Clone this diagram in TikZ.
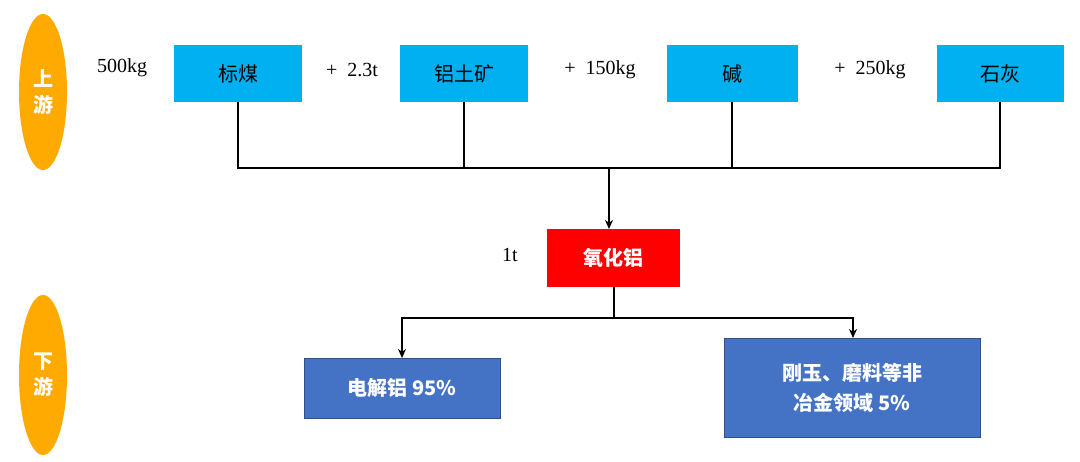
\documentclass[tikz,border=0pt]{standalone}
\usepackage{fontspec}
\setmainfont{Liberation Serif}
\newfontfamily\cjk{Noto Sans CJK SC}
\usetikzlibrary{arrows.meta}
\definecolor{cyanb}{RGB}{0,176,240}
\definecolor{blueb}{RGB}{68,114,196}
\definecolor{orng}{RGB}{255,170,0}
\tikzset{
  up/.style={fill=cyanb,draw=none,text=black,font=\cjk\fontsize{20}{24}\selectfont},
  lbl/.style={font=\fontsize{20}{24}\selectfont,inner sep=0pt},
  ln/.style={line width=2pt},
  arr/.style={line width=2pt,-{Stealth[length=9pt,width=8pt]}},
  oval/.style={fill=orng,draw=none,ellipse,text=white,font=\cjk\bfseries\fontsize{20}{26}\selectfont,align=center}
}
\usetikzlibrary{shapes.geometric}
\begin{document}
\begin{tikzpicture}[x=1pt,y=-1pt]
\useasboundingbox (0,0) rectangle (1080,462);
\node[oval,minimum width=48pt,minimum height=156pt] (o1) at (43,92) {上\\游};
\node[oval,minimum width=48pt,minimum height=160pt] (o2) at (43,375) {下\\游};
\fill[cyanb] (174,45) rectangle (302,102); \node[up] (b1) at (238,73.5) {标煤};
\fill[cyanb] (400,45) rectangle (528,102); \node[up] (b2) at (464,73.5) {铝土矿};
\fill[cyanb] (667,45) rectangle (798,102); \node[up] (b3) at (732,73.5) {碱};
\fill[cyanb] (937,45) rectangle (1064,102); \node[up] (b4) at (1000,73.5) {石灰};
\coordinate (b1s) at (238,102); \coordinate (b2s) at (464,102);
\coordinate (b3s) at (732,102); \coordinate (b4s) at (1000,102);
\node[lbl] (t1) at (122,68) {500kg};
\node[lbl] (t2) at (352,70) {+\ \ 2.3t};
\node[lbl] (t3) at (600,70) {+\ \ 150kg};
\node[lbl] (t4) at (870,70) {+\ \ 250kg};
\fill[red] (547,229) rectangle (680,287);
\node[font=\cjk\bfseries\fontsize{20}{24}\selectfont,text=white] (al) at (613.5,258) {氧化铝};
\coordinate (alt) at (609,229); \coordinate (alb) at (614,287);
\node[lbl] (t5) at (510,255) {1t};
\draw[ln] (b1s) -- (238,168) -- (1000,168) -- (b4s);
\draw[ln] (b2s) -- (464,168);
\draw[ln] (b3s) -- (732,168);
\draw[arr] (609,168) -- (alt);
\fill[blueb,draw=blueb!70!black] (304,358) rectangle (500,418);
\node[font=\cjk\bfseries\fontsize{20}{24}\selectfont,text=white] (d1) at (402,388) {电解铝 95\%};
\fill[blueb,draw=blueb!70!black] (724,338) rectangle (980,437);
\node[font=\cjk\bfseries\fontsize{20}{30}\selectfont,text=white,align=center] (d2) at (852,387.5) {刚玉、磨料等非\\冶金领域 5\%};
\coordinate (d1t) at (402,358); \coordinate (d2t) at (853,338);
\draw[ln] (alb) -- (614,318);
\draw[ln] (402,318) -- (853,318);
\draw[arr] (402,317) -- (d1t);
\draw[arr] (853,317) -- (d2t);
\end{tikzpicture}
\end{document}
